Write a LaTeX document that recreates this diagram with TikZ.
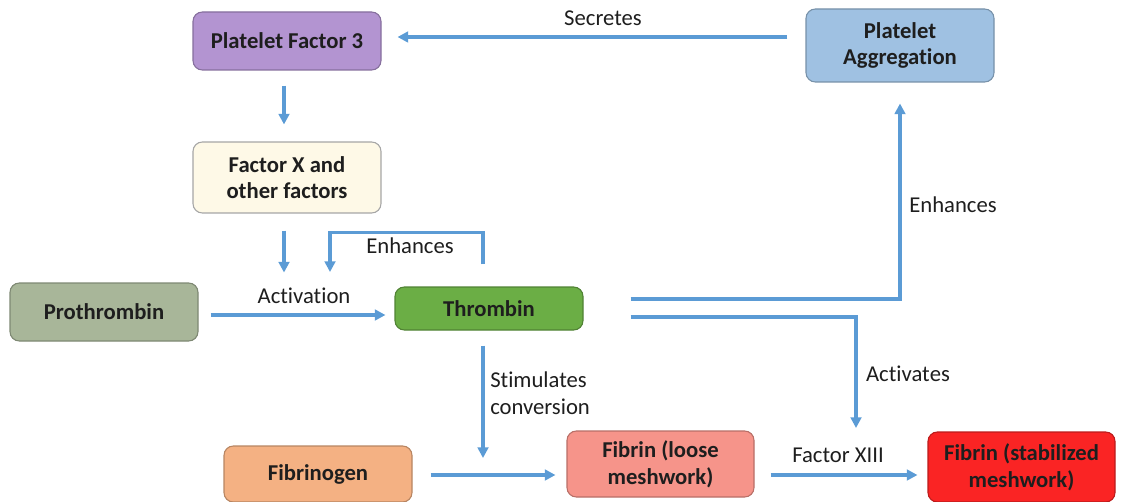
\documentclass[tikz,border=0pt]{standalone}
\usepackage{fontspec}
\setmainfont[Ligatures=NoCommon, RawFeature={-liga;-clig;-calt}]{Carlito}
\usetikzlibrary{calc,arrows.meta}
\definecolor{arrc}{HTML}{5B9BD5}
\definecolor{txt}{HTML}{1E1E1E}
\definecolor{cpf}{HTML}{B394D1}
\definecolor{cpa}{HTML}{9FC1E2}
\definecolor{cfx}{HTML}{FEF9E7}
\definecolor{cpro}{HTML}{A8B699}
\definecolor{cthr}{HTML}{6BAE45}
\definecolor{cfbg}{HTML}{F4B183}
\definecolor{cfl}{HTML}{F6948A}
\definecolor{cfs}{HTML}{FA2424}
\tikzset{
  box/.style={draw=#1!75!black, line width=0.8pt, rounded corners=7pt, fill=#1,
    align=center, inner sep=0pt, text=txt,
    font=\fontsize{17pt}{20pt}\selectfont\bfseries},
  arr/.style={draw=arrc, line width=2.3pt, -{Triangle[length=8pt,width=8pt]}},
  lbl/.style={text=txt, font=\fontsize{17pt}{20pt}\selectfont, inner sep=0pt}
}
\begin{document}
\begin{tikzpicture}[x=0.75pt,y=-0.75pt]
\useasboundingbox (0,0) rectangle (1123,502);
\node[box=cpf, minimum width=141pt, minimum height=43.5pt] (PF3) at (287,41) {Platelet Factor 3};
\node[box=cpa, minimum width=141pt, minimum height=54.75pt] (PA) at (900,45.5) {Platelet\\Aggregat\kern0pt ion};
\node[box=cfx, draw=gray!70, minimum width=141pt, minimum height=53.25pt] (FX) at (287,177.5) {Factor X and\\other factors};
\node[box=cpro, minimum width=141pt, minimum height=43.5pt] (Pro) at (104,312) {Prothrombin};
\node[box=cthr, minimum width=141pt, minimum height=32.25pt] (Thr) at (489,308.5) {Thrombin};
\node[box=cfbg, minimum width=141pt, minimum height=42pt] (Fbg) at (318,474) {Fibrinogen};
\node[box=cfl, minimum width=140.25pt, minimum height=49.5pt] (FL) at (660.5,464) {Fibrin (loose\\meshwork)};
\node[box=cfs, minimum width=140.25pt, minimum height=52.5pt] (FS) at (1021.5,467) {Fibrin (stabilized\\meshwork)};

\coordinate (fxend) at ($(FX.south)+(-3,59)$);
\coordinate (enhend) at (330,272);
\coordinate (actend) at (856,428);
\coordinate (stimend) at (483,458);

% Secretes
\draw[arr] ($(PA.west)+(-18,-8.5)$) -- ($(PF3.east)+(16,-4)$);
\node[lbl] (lsec) at (603,18) {Secretes};
% PF3 -> FX
\draw[arr] ($(PF3.south)+(-3,15)$) -- ($(FX.north)+(-3,-17)$);
% FX -> activation
\draw[arr] ($(FX.south)+(-3,17)$) -- (fxend);
% Enhances loop
\draw[arr] ($(Thr.north)+(-6,-22)$) -- ++(0,-32) -| (enhend);
\node[lbl] (lenh1) at (410,246) {Enhances};
% Activation
\draw[arr] ($(Pro.east)+(12,3)$) -- ($(Thr.west)+(-9,6.5)$);
\node[lbl] (lact) at (304,296) {Activat\kern0pt ion};
% Thrombin -> Platelet Aggregation
\draw[arr] ($(Thr.east)+(47,-9.5)$) -| ($(PA.south)+(0,21)$);
\node[lbl] (lenh2) at (953,205) {Enhances};
% Thrombin -> Activates
\draw[arr] ($(Thr.east)+(47,8.5)$) -| (actend);
\node[lbl] (lactv) at (908,374) {Activat\kern0pt es};
% Stimulates conversion
\draw[arr] ($(Thr.south)+(-6,15)$) -- (stimend);
\node[lbl, align=left, anchor=west, font=\fontsize{17pt}{20pt}\selectfont] (lstim) at (490,393) {Stimulates\\conversion};
% Fibrinogen -> Fibrin loose
\draw[arr] ($(Fbg.east)+(18,1)$) -- ($(FL.west)+(-11,11)$);
% Fibrin loose -> stabilized
\draw[arr] ($(FL.east)+(16,11)$) -- ($(FS.west)+(-10,8)$);
\node[lbl] (lf13) at (838,455) {Factor XIII};
\end{tikzpicture}
\end{document}
